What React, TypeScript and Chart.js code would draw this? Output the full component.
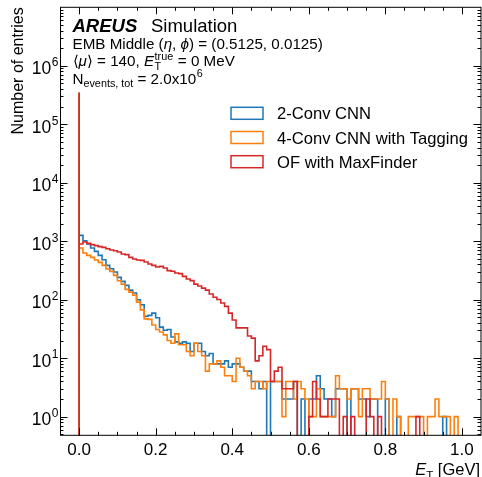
import React, { useEffect, useRef } from 'react';
import { Chart, registerables } from 'chart.js';

Chart.register(...registerables);

// ---------------- data ----------------
const BIN_WIDTH = 0.01;
const binLow: number[] = Array.from({ length: 100 }, (_, i) => i / 100);

const cnn2Counts: number[] = [
  350000, 1260, 1020, 896, 765, 671, 573, 483, 386, 339,
  297, 241, 206, 176, 146, 130, 100, 82, 52, 54,
  59, 49, 34, 30, 31, 23, 19, 18, 19, 18,
  13, 18, 18, 13, 11, 12, 8, 8, 8, 9,
  7, 8, 8, 7, 6, 6, 4, 4, 3, 4,
  0, 4, 4, 4, 2, 2, 2, 4, 0, 2,
  0, 2, 2, 5, 3, 2, 2, 1, 3, 3,
  3, 0, 3, 3, 2, 2, 1, 2, 2, 0,
  0, 2, 0, 0, 1, 0, 0, 0, 0, 0,
  0, 0, 0, 0, 0, 0, 1, 0, 0, 0,
];

const cnn4TagCounts: number[] = [
  352000, 765, 629, 573, 530, 477, 435, 386, 334, 305,
  261, 211, 185, 150, 135, 119, 91, 67, 47, 46,
  37, 31, 28, 25, 20, 18, 26, 17, 17, 13,
  11, 18, 13, 11, 6, 8, 8, 9, 7, 5,
  5, 4, 10, 7, 6, 5, 3, 4, 4, 3,
  4, 4, 4, 4, 1, 4, 4, 2, 4, 3,
  2, 1, 1, 3, 1, 1, 1, 1, 5, 3,
  3, 2, 3, 3, 1, 3, 3, 2, 2, 2,
  4, 2, 0, 2, 1, 0, 0, 1, 1, 1,
  1, 0, 1, 1, 2, 1, 1, 1, 0, 1,
];

const ofMaxFinderCounts: number[] = [
  346000, 896, 968, 920, 873, 840, 807, 786, 745, 707,
  689, 654, 604, 589, 530, 496, 477, 471, 441, 408,
  386, 362, 372, 348, 314, 306, 286, 279, 251, 226,
  212, 185, 171, 158, 146, 125, 110, 101, 88, 77,
  59, 45, 33, 33, 33, 24, 22, 9, 11, 16,
  14, 4, 6, 7, 3, 3, 3, 4, 0, 0,
  0, 1, 4, 2, 1, 1, 2, 2, 2, 0,
  1, 0, 1, 0, 0, 0, 2, 1, 0, 1,
  0, 0, 0, 0, 0, 0, 0, 0, 0, 1,
  0, 0, 0, 0, 0, 0, 0, 0, 0, 0,
];

const seriesLabels = ['2-Conv CNN', '4-Conv CNN with Tagging', 'OF with MaxFinder'];
const seriesColors = ['#1f77b4', '#ff7f0e', '#d62728'];

const xTickValues = [0, 0.2, 0.4, 0.6, 0.8, 1.0];
const xTickLabels = ['0.0', '0.2', '0.4', '0.6', '0.8', '1.0'];
const yTickExponents = [0, 1, 2, 3, 4, 5, 6];

const X_MIN = -0.05;
const X_MAX = 1.05;
const Y_MIN = 0.48;
const Y_MAX = 1e7;
const ZERO = 1e-3; // empty bins drop below the axis (clipped)

const FONT = '"Liberation Sans", Arial, Helvetica, sans-serif';

function toPoints(counts: number[]) {
  const pts: { x: number; y: number }[] = [{ x: binLow[0], y: ZERO }];
  counts.forEach((c, i) => pts.push({ x: binLow[i], y: c > 0 ? c : ZERO }));
  pts.push({ x: binLow[counts.length - 1] + BIN_WIDTH, y: ZERO });
  return pts;
}

function seg(ctx: CanvasRenderingContext2D, text: string, x: number, y: number, size: number, style = '') {
  ctx.font = `${style} ${size}px ${FONT}`.trim();
  ctx.fillText(text, x, y);
  return ctx.measureText(text).width;
}
function segW(ctx: CanvasRenderingContext2D, text: string, size: number, style = '') {
  ctx.font = `${style} ${size}px ${FONT}`.trim();
  return ctx.measureText(text).width;
}

const annotations = {
  id: 'annotations',
  afterDraw(chart: any) {
    const ctx: CanvasRenderingContext2D = chart.ctx;
    const { left, right, top, bottom } = chart.chartArea;
    const xs = chart.scales.x;
    const ys = chart.scales.y;
    ctx.save();
    ctx.fillStyle = '#000';
    ctx.strokeStyle = '#000';
    ctx.lineWidth = 1;
    ctx.textAlign = 'left';
    ctx.textBaseline = 'alphabetic';

    // frame
    ctx.strokeRect(left + 0.5, top, right - left - 0.5, bottom - top);

    // x ticks
    ctx.beginPath();
    for (let k = -1; k <= 21; k++) {
      const v = k * 0.05;
      if (v <= X_MIN + 1e-9 || v >= X_MAX - 1e-9) continue;
      const px = Math.round(xs.getPixelForValue(v)) + 0.5;
      const major = k % 4 === 0;
      const len = major ? 7 : 3.5;
      ctx.moveTo(px, bottom);
      ctx.lineTo(px, bottom - len);
      ctx.moveTo(px, top);
      ctx.lineTo(px, top + len);
    }
    // y ticks
    for (let e = -1; e <= 6; e++) {
      for (let m = 1; m <= 9; m++) {
        const v = m * Math.pow(10, e);
        if (v <= Y_MIN || v >= Y_MAX) continue;
        const py = Math.round(ys.getPixelForValue(v)) + 0.5;
        const len = m === 1 ? 7.5 : 3.5;
        ctx.moveTo(left, py);
        ctx.lineTo(left + len, py);
        ctx.moveTo(right, py);
        ctx.lineTo(right - len, py);
      }
    }
    ctx.stroke();

    // x tick labels
    ctx.textAlign = 'center';
    ctx.font = `17px ${FONT}`;
    xTickValues.forEach((v, i) => {
      ctx.fillText(xTickLabels[i], xs.getPixelForValue(v), 455);
    });

    // y tick labels 10^n
    ctx.textAlign = 'left';
    yTickExponents.forEach((e) => {
      const py = ys.getPixelForValue(Math.pow(10, e));
      const wBase = segW(ctx, '10', 17.5);
      const wSup = segW(ctx, String(e), 12);
      const x0 = 58.5 - wBase - wSup - 0.5;
      seg(ctx, '10', x0, py + 8.6, 17.5);
      seg(ctx, String(e), x0 + wBase + 0.5, py + 0.3, 12);
    });

    // y axis title
    ctx.save();
    ctx.translate(23, top);
    ctx.rotate(-Math.PI / 2);
    ctx.textAlign = 'right';
    ctx.font = `16px ${FONT}`;
    ctx.fillText('Number of entries', 0, 0);
    ctx.restore();

    // x axis title: E_T [GeV], right aligned
    {
      const wE = segW(ctx, 'E', 16.5, 'italic');
      const wT = segW(ctx, 'T', 11.5);
      const wRest = segW(ctx, ' [GeV]', 16.5);
      let x = 480 - wE - wT - wRest;
      const by = 475;
      x += seg(ctx, 'E', x, by, 16.5, 'italic');
      x += seg(ctx, 'T', x, by + 3.5, 11.5);
      seg(ctx, ' [GeV]', x, by, 16.5);
    }

    // experiment label block
    {
      const x0 = 72.5;
      const fs = 15.2;
      const ss = 10.8;
      seg(ctx, 'AREUS', x0, 31.7, 18.5, 'italic bold');
      seg(ctx, 'Simulation', 151, 31.7, 18.5);

      let x = x0;
      const b2 = 48.6;
      x += seg(ctx, 'EMB Middle (', x, b2, fs);
      x += seg(ctx, 'η', x, b2, fs, 'italic');
      x += seg(ctx, ', ', x, b2, fs);
      x += seg(ctx, 'ϕ', x, b2, fs, 'italic');
      seg(ctx, ') = (0.5125, 0.0125)', x, b2, fs);

      x = x0;
      const b3 = 66.3;
      x += seg(ctx, '⟨', x, b3, fs);
      x += seg(ctx, 'μ', x, b3, fs, 'italic');
      x += seg(ctx, '⟩ = 140, ', x, b3, fs);
      x += seg(ctx, 'E', x, b3, fs, 'italic');
      const wSup = seg(ctx, 'true', x + 0.5, b3 - 6.5, ss);
      seg(ctx, 'T', x + 0.5, b3 + 3.5, ss);
      x += wSup + 1;
      seg(ctx, ' = 0 MeV', x, b3, fs);

      x = x0;
      const b4 = 83.8;
      x += seg(ctx, 'N', x, b4, fs);
      x += seg(ctx, 'events, tot', x, b4 + 3.5, ss);
      x += seg(ctx, ' = 2.0x10', x, b4, fs);
      seg(ctx, '6', x + 0.5, b4 - 6.5, ss);
    }

    // legend
    {
      const centers = [113.3, 137.5, 161.7];
      ctx.lineWidth = 1.5;
      seriesLabels.forEach((lab, i) => {
        const cy = centers[i];
        ctx.strokeStyle = seriesColors[i];
        ctx.strokeRect(231, cy - 6, 32, 12);
        ctx.fillStyle = '#000';
        seg(ctx, lab, 277, cy + 6, 16.6);
      });
    }

    ctx.restore();
  },
};

export default function App() {
  const ref = useRef<HTMLCanvasElement>(null);
  useEffect(() => {
    const canvas = ref.current!;
    const countsList = [cnn2Counts, cnn4TagCounts, ofMaxFinderCounts];
    const orders = [3, 2, 1];
    const chart = new Chart(canvas, {
      type: 'line',
      data: {
        datasets: countsList.map((counts, i) => ({
          label: seriesLabels[i],
          data: toPoints(counts),
          borderColor: seriesColors[i],
          backgroundColor: seriesColors[i],
          borderWidth: 1.6,
          stepped: 'after',
          fill: false,
          pointRadius: 0,
          order: orders[i],
        })),
      },
      options: {
        responsive: false,
        animation: false,
        events: [],
        layout: { padding: { top: 7.3, right: 1, left: 0, bottom: 0 } },
        plugins: { legend: { display: false }, tooltip: { enabled: false } },
        scales: {
          x: {
            type: 'linear',
            min: X_MIN,
            max: X_MAX,
            ticks: { display: false },
            grid: { display: false },
            border: { display: false },
            afterFit: (s: any) => {
              s.height = 41.7;
            },
          },
          y: {
            type: 'logarithmic',
            min: Y_MIN,
            max: Y_MAX,
            ticks: { display: false },
            grid: { display: false },
            border: { display: false },
            afterFit: (s: any) => {
              s.width = 60;
            },
          },
        },
      } as any,
      plugins: [annotations],
    } as any);
    return () => chart.destroy();
  }, []);

  return (
    <div style={{ position: 'absolute', left: 0, top: 0, width: 482, height: 477, background: '#fff' }}>
      <canvas ref={ref} width={482} height={477} style={{ display: 'block' }} />
    </div>
  );
}
